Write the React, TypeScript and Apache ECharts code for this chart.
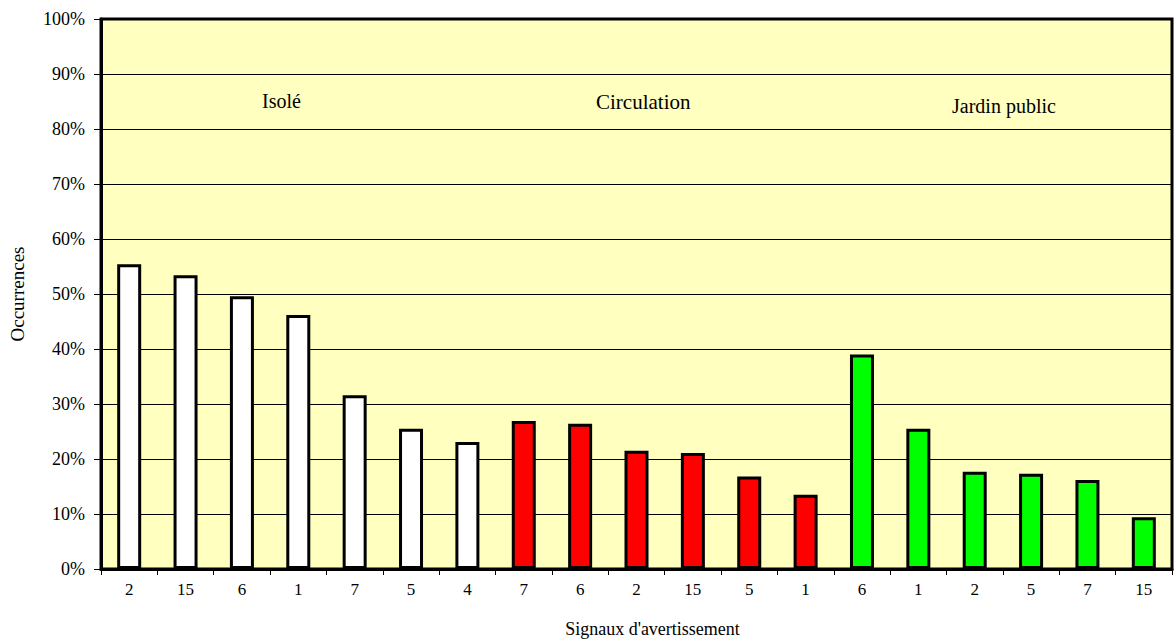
import React, { useEffect, useRef } from "react";
import * as echarts from "echarts";

const categories = ["2", "15", "6", "1", "7", "5", "4", "7", "6", "2", "15", "5", "1", "6", "1", "2", "5", "7", "15"];
const values = [55.4, 53.4, 49.6, 46.2, 31.6, 25.5, 23.1, 26.9, 26.4, 21.5, 21.1, 16.8, 13.5, 39.0, 25.5, 17.7, 17.3, 16.2, 9.4];
const groups = ["Isolé", "Isolé", "Isolé", "Isolé", "Isolé", "Isolé", "Isolé", "Circulation", "Circulation", "Circulation", "Circulation", "Circulation", "Circulation", "Jardin public", "Jardin public", "Jardin public", "Jardin public", "Jardin public", "Jardin public"];
const groupColors: Record<string, string> = { "Isolé": "#FFFFFF", "Circulation": "#FF0000", "Jardin public": "#00FF00" };
const yTicks = [0, 10, 20, 30, 40, 50, 60, 70, 80, 90, 100];

const FONT = "Liberation Serif";

export default function App() {
  const ref = useRef<HTMLDivElement>(null);
  useEffect(() => {
    if (!ref.current) return;
    const chart = echarts.init(ref.current, undefined, { renderer: "svg" });
    chart.setOption({
      animation: false,
      backgroundColor: "#FFFFFF",
      textStyle: { fontFamily: FONT },
      grid: {
        left: 100, right: 2, top: 19, bottom: 66,
        show: true, backgroundColor: "#FFFFC0", borderColor: "#000", borderWidth: 3,
      },
      xAxis: {
        type: "category",
        data: categories.map((_, i) => String(i)),
        boundaryGap: true,
        name: "Signaux d'avertissement",
        nameLocation: "middle",
        nameGap: 51,
        nameTextStyle: { fontFamily: FONT, fontSize: 18, color: "#000", padding: [0, 0, 0, 32] },
        axisLine: { lineStyle: { color: "#000", width: 3 } },
        axisTick: { show: true, length: 6, lineStyle: { color: "#000", width: 1 } },
        axisLabel: {
          fontFamily: FONT, fontSize: 17, color: "#000", margin: 12, interval: 0,
          formatter: (_v: string, i: number) => categories[i],
        },
      },
      yAxis: {
        type: "value",
        min: 0, max: 100, interval: 10,
        name: "Occurrences",
        nameLocation: "middle",
        nameGap: 74,
        nameRotate: 90,
        nameTextStyle: { fontFamily: FONT, fontSize: 19, color: "#000" },
        axisLine: { show: true, lineStyle: { color: "#000", width: 3 } },
        axisTick: { show: true, length: 7, lineStyle: { color: "#000", width: 1 } },
        axisLabel: { fontFamily: FONT, fontSize: 18, color: "#000", margin: 16, formatter: (v: number) => (yTicks.includes(v) ? v + "%" : "") },
        splitLine: { show: true, lineStyle: { color: "#000", width: 1 } },
      },
      series: [{
        type: "bar",
        barWidth: 24,
        data: values.map((v, i) => ({
          value: v,
          itemStyle: { color: groupColors[groups[i]], borderColor: "#000", borderWidth: 3 },
        })),
      }],
      graphic: [
        { type: "text", left: 262, top: 91, style: { text: "Isolé", font: `20px ${FONT}`, fill: "#000" } },
        { type: "text", left: 596, top: 91, style: { text: "Circulation", font: `21px ${FONT}`, fill: "#000" } },
        { type: "text", left: 952, top: 96, style: { text: "Jardin public", font: `20px ${FONT}`, fill: "#000" } },
      ],
    });
    return () => chart.dispose();
  }, []);
  return <div ref={ref} style={{ width: 1174, height: 643, position: "absolute", left: 0, top: 0 }} />;
}
